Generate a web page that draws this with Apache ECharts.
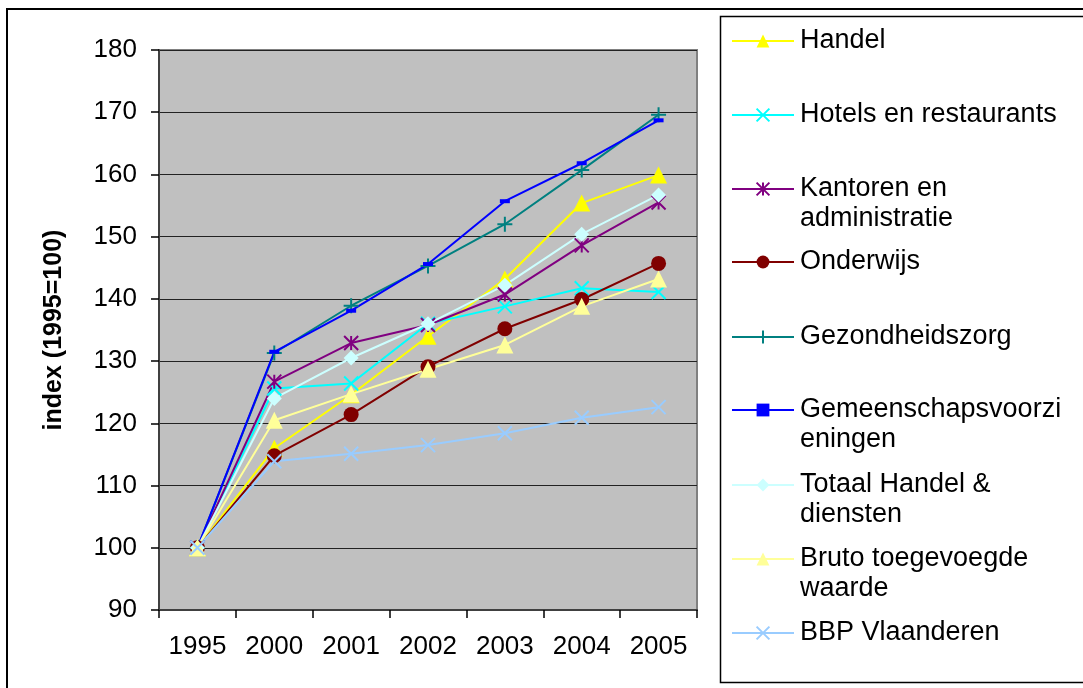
<!DOCTYPE html>
<html>
<head>
<meta charset="utf-8">
<script src="https://cdn.jsdelivr.net/npm/echarts@6/dist/echarts.min.js"></script>
<style>
html,body{margin:0;padding:0;background:#fff;}
#c{width:1083px;height:688px;}
</style>
</head>
<body>
<div id="c"></div>
<script>
var categories = ['1995','2000','2001','2002','2003','2004','2005'];
var seriesNames = ['Handel','Hotels en restaurants','Kantoren en administratie','Onderwijs','Gezondheidszorg','Gemeenschapsvoorzieningen','Totaal Handel & diensten','Bruto toegevoegde waarde','BBP Vlaanderen'];
var legendLabels = ['Handel','Hotels en restaurants','Kantoren en\nadministratie','Onderwijs','Gezondheidszorg','Gemeenschapsvoorzi\neningen','Totaal Handel &\ndiensten','Bruto toegevoegde\nwaarde','BBP Vlaanderen'];
var handel     = [100, 116.0, 124.6, 134.0, 143.2, 155.4, 159.9];
var hotels     = [100, 125.6, 126.4, 136.0, 138.8, 141.7, 141.1];
var kantoren   = [100, 126.7, 132.9, 135.8, 140.7, 148.6, 155.5];
var onderwijs  = [100, 114.8, 121.4, 129.1, 135.2, 139.9, 145.7];
var gezondheid = [100, 131.3, 138.9, 145.3, 152.0, 160.7, 169.6];
var gemeensch  = [100, 131.5, 138.1, 145.6, 155.7, 161.8, 168.7];
var totaal     = [100, 124.0, 130.5, 136.0, 142.2, 150.4, 156.7];
var bruto      = [100, 120.5, 124.7, 128.7, 132.6, 138.8, 143.2];
var bbp        = [100, 113.9, 115.1, 116.5, 118.4, 120.9, 122.6];
var yTicks = {min: 90, max: 180, interval: 10};

var allData = [handel, hotels, kantoren, onderwijs, gezondheid, gemeensch, totaal, bruto, bbp];
var colors = ['#FFFF00','#00FFFF','#800080','#800000','#008080','#0000FF','#CCFFFF','#FFFF99','#99CCFF'];
var XPATH = 'path://M0,0L10,10M10,0L0,10';
var STAR = 'path://M0,0L10,10M10,0L0,10M5,0L5,10';
var PLUS = 'path://M5,0L5,10M0,5L10,5';
var symbols = ['triangle', XPATH, STAR, 'circle', PLUS, 'rect', 'diamond', 'triangle', XPATH];
var symbolSizes = [17, 14, 14, 15, 15, [10,4], 15, 17, 14];
var stroked = [false, true, true, false, true, false, false, false, true];

var FONT = '"Liberation Sans", Arial, sans-serif';

var series = seriesNames.map(function(n, i){
  return {
    name: n,
    type: 'line',
    data: allData[i],
    symbol: symbols[i],
    symbolSize: symbolSizes[i],
    showAllSymbol: true,
    animation: false,
    lineStyle: {color: colors[i], width: 2},
    itemStyle: stroked[i] ? {color: colors[i], borderColor: colors[i], borderWidth: 2} : {color: colors[i], borderWidth: 0},
    emphasis: {disabled: true}
  };
});

var legendCenters = [41, 115, 189, 262, 337, 410, 485, 559, 633];
var LH = 30;
var legends = seriesNames.map(function(n, i){
  var twoLine = legendLabels[i].indexOf('\n') >= 0;
  return {
    data: [n],
    left: 731,
    top: legendCenters[i] - (twoLine ? 1.5 * LH : 0.5 * LH),
    padding: 0,
    itemWidth: 62,
    itemHeight: 16,
    itemGap: 0,
    selectedMode: false,
    formatter: function(){ return twoLine ? '\n' + legendLabels[i] : legendLabels[i]; },
    textStyle: {fontFamily: FONT, fontSize: 27, color: '#000', lineHeight: LH, padding: [0,0,0,1]}
  };
});

var chart = echarts.init(document.getElementById('c'), null, {renderer: 'canvas'});
chart.setOption({
  backgroundColor: '#fff',
  animation: false,
  color: colors,
  graphic: [
    {type: 'rect', z: -10, shape: {x: 7, y: 9, width: 1200, height: 720}, style: {fill: '#fff', stroke: '#000', lineWidth: 2}},
    {type: 'rect', z: -5, shape: {x: 720.5, y: 16.5, width: 420, height: 666}, style: {fill: '#fff', stroke: '#000', lineWidth: 1.5}}
  ],
  legend: legends,
  grid: {left: 159, top: 50, right: 386, bottom: 78, show: true, backgroundColor: '#C0C0C0', borderColor: '#808080', borderWidth: 2},
  xAxis: {
    type: 'category',
    data: categories,
    boundaryGap: true,
    axisLine: {lineStyle: {color: '#404040', width: 2}},
    axisTick: {show: true, length: 8, lineStyle: {color: '#000', width: 1.5}},
    axisLabel: {fontFamily: FONT, fontSize: 26, color: '#000', margin: 24, interval: 0},
    splitLine: {show: false}
  },
  yAxis: {
    type: 'value',
    min: yTicks.min, max: yTicks.max, interval: yTicks.interval,
    name: 'index (1995=100)',
    nameLocation: 'middle',
    nameGap: 92,
    nameTextStyle: {fontFamily: FONT, fontSize: 25, fontWeight: 'bold', color: '#000'},
    axisLine: {show: true, lineStyle: {color: '#404040', width: 2}},
    axisTick: {show: true, length: 8, lineStyle: {color: '#000', width: 1.5}},
    axisLabel: {fontFamily: FONT, fontSize: 26, color: '#000', margin: 22},
    splitLine: {show: true, lineStyle: {color: '#222', width: 1}}
  },
  series: series
});
</script>
</body>
</html>
